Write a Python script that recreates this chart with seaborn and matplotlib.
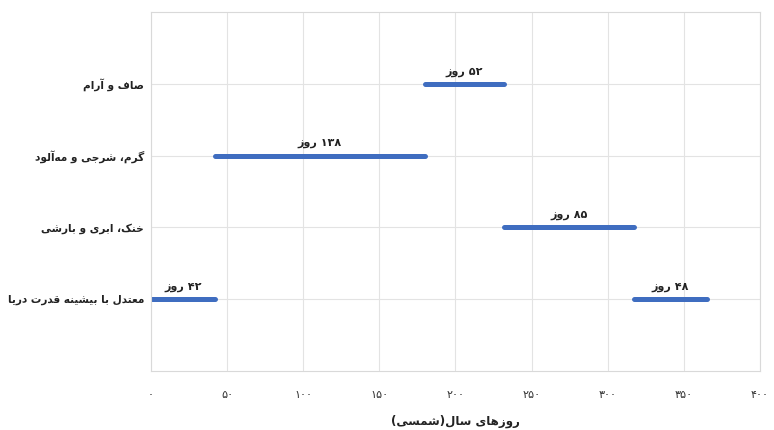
import matplotlib
matplotlib.use("Agg")
import matplotlib.pyplot as plt
import seaborn as sns
import pandas as pd

# ---------------- data ----------------
categories = ["صاف و آرام", "گرم، شرجی و مه\u200cآلود", "خنک، ابری و بارشی", "معتدل با بیشینه قدرت دریا"]
seg_category = [3, 3, 0, 1, 2]          # index into categories
seg_start = [0, 317, 180, 42, 232]
seg_end = [42, 365, 232, 180, 317]
seg_days = [42, 48, 52, 138, 85]
day_word = "روز"
x_ticks = [0, 50, 100, 150, 200, 250, 300, 350, 400]
x_label = "روزهای سال(شمسی)"

# ---------------- simple Arabic-script shaping ----------------
FORMS = {
    'ا': ('\uFE8D', '\uFE8E', None, None),
    'آ': ('\uFE81', '\uFE82', None, None),
    'ب': ('\uFE8F', '\uFE90', '\uFE91', '\uFE92'),
    'ت': ('\uFE95', '\uFE96', '\uFE97', '\uFE98'),
    'ج': ('\uFE9D', '\uFE9E', '\uFE9F', '\uFEA0'),
    'خ': ('\uFEA5', '\uFEA6', '\uFEA7', '\uFEA8'),
    'د': ('\uFEA9', '\uFEAA', None, None),
    'ر': ('\uFEAD', '\uFEAE', None, None),
    'ز': ('\uFEAF', '\uFEB0', None, None),
    'س': ('\uFEB1', '\uFEB2', '\uFEB3', '\uFEB4'),
    'ش': ('\uFEB5', '\uFEB6', '\uFEB7', '\uFEB8'),
    'ص': ('\uFEB9', '\uFEBA', '\uFEBB', '\uFEBC'),
    'ع': ('\uFEC9', '\uFECA', '\uFECB', '\uFECC'),
    'ف': ('\uFED1', '\uFED2', '\uFED3', '\uFED4'),
    'ق': ('\uFED5', '\uFED6', '\uFED7', '\uFED8'),
    'ل': ('\uFEDD', '\uFEDE', '\uFEDF', '\uFEE0'),
    'م': ('\uFEE1', '\uFEE2', '\uFEE3', '\uFEE4'),
    'ن': ('\uFEE5', '\uFEE6', '\uFEE7', '\uFEE8'),
    'ه': ('\uFEE9', '\uFEEA', '\uFEEB', '\uFEEC'),
    'و': ('\uFEED', '\uFEEE', None, None),
    'ک': ('\uFB8E', '\uFB8F', '\uFB90', '\uFB91'),
    'گ': ('\uFB92', '\uFB93', '\uFB94', '\uFB95'),
    'ی': ('\uFBFC', '\uFBFD', '\uFBFE', '\uFBFF'),
}
PDIG = "۰۱۲۳۴۵۶۷۸۹"


def fa_num(n):
    return "".join(PDIG[int(d)] for d in str(n))


def rtl(text):
    chars = list(text)
    out = []
    for i, c in enumerate(chars):
        if c not in FORMS:
            if c != '\u200c':
                out.append(c)
            continue
        prev = chars[i - 1] if i > 0 else None
        nxt = chars[i + 1] if i + 1 < len(chars) else None
        iso, fin, ini, med = FORMS[c]
        jp = prev in FORMS and FORMS[prev][2] is not None
        jn = nxt in FORMS and ini is not None
        if jp and jn:
            out.append(med)
        elif jp:
            out.append(fin)
        elif jn:
            out.append(ini)
        else:
            out.append(iso)
    s = "".join(reversed(out))
    s = s.replace("(", "\0").replace(")", "(").replace("\0", ")")
    return s


# ---------------- plot ----------------
sns.set_theme(style="white")
plt.rcParams['font.family'] = ['DejaVu Sans']

df = pd.DataFrame({
    "day": seg_start + seg_end,
    "ypos": seg_category + seg_category,
    "seg": list(range(len(seg_start))) * 2,
})

fig = plt.figure(figsize=(7.74, 4.30), dpi=100)
ax = fig.add_axes([151 / 774, 1 - 371 / 430, (760 - 151) / 774, (371 - 12) / 430])

sns.lineplot(data=df, x="day", y="ypos", units="seg", estimator=None, sort=False,
             color="#3F6DC0", linewidth=3.6, solid_capstyle="round", ax=ax, legend=False)

for s, e, c, d in zip(seg_start, seg_end, seg_category, seg_days):
    ax.text((s + e) / 2, c - 0.1, rtl(day_word) + " " + fa_num(d), ha="center", va="bottom",
            fontsize=8, fontweight="bold", color="#222222")

ax.set_xlim(0, 400)
ax.set_ylim(4, -1)
ax.set_xticks(x_ticks)
ax.set_xticklabels([fa_num(t) for t in x_ticks], fontsize=8, color="#333333")
ax.set_yticks(range(len(categories)))
ax.set_yticklabels([rtl(c) for c in categories], fontsize=7.6, fontweight="bold", color="#222222")
ax.tick_params(axis="x", length=0, pad=14)
ax.tick_params(axis="y", length=0, pad=5)
ax.set_xlabel(rtl(x_label), fontsize=8.5, fontweight="bold", color="#222222", labelpad=10)
ax.set_ylabel("")
ax.grid(True, color="#E3E3E3", linewidth=0.8)
ax.set_axisbelow(True)
for sp in ax.spines.values():
    sp.set_color("#D9D9D9")
    sp.set_linewidth(0.8)

fig.savefig("out.png", dpi=100, facecolor="white")
